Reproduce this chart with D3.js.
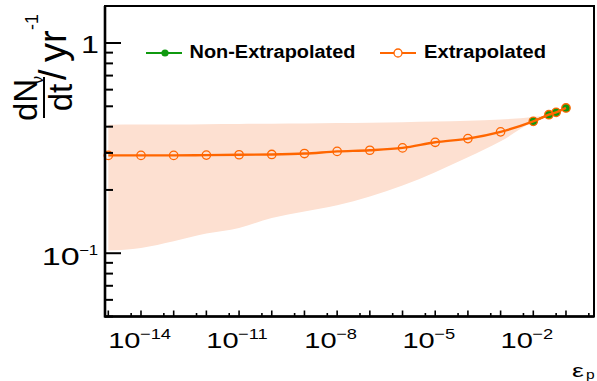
<!DOCTYPE html>
<html>
<head>
<meta charset="utf-8">
<script src="https://cdn.jsdelivr.net/npm/d3@7"></script>
<style>
  html, body { margin: 0; padding: 0; background: #fff; }
  svg { display: block; font-family: "Liberation Sans", Arial, Helvetica, sans-serif; }
</style>
</head>
<body>
<svg id="chart" width="597" height="381"></svg>
<script>
// Proton efficiency scan: extrapolated rate with uncertainty band, plus directly computed points
const epsExtrap  = [1e-15, 1e-14, 1e-13, 1e-12, 1e-11, 1e-10, 1e-9, 1e-8, 1e-7, 1e-6, 1e-5, 1e-4, 1e-3, 1e-2, 3e-2, 5e-2, 1e-1];
const rateExtrap = [0.292, 0.292, 0.292, 0.293, 0.294, 0.295, 0.298, 0.305, 0.309, 0.317, 0.337, 0.351, 0.378, 0.424, 0.456, 0.468, 0.491];
const bandLow    = [0.103, 0.106, 0.114, 0.124, 0.132, 0.147, 0.158, 0.169, 0.186, 0.210, 0.243, 0.286, 0.341, 0.423, 0.456, 0.468, 0.491];
const bandHigh   = [0.409, 0.410, 0.410, 0.411, 0.412, 0.413, 0.414, 0.416, 0.418, 0.420, 0.423, 0.427, 0.433, 0.445, 0.456, 0.468, 0.491];

const epsDirect  = [1e-2, 3e-2, 5e-2, 1e-1];
const rateDirect = [0.424, 0.456, 0.468, 0.491];

const seriesNames = ["Non-Extrapolated", "Extrapolated"];
const xLabelExps  = [-14, -11, -8, -5, -2];
const yMajor      = [0.1, 1];
const yMinor      = [0.05, 0.06, 0.07, 0.08, 0.09, 0.2, 0.3, 0.4, 0.5, 0.6, 0.7, 0.8, 0.9];

const ORANGE = "#ff6600", GREEN = "#0f990f", BAND = "#fde0d1";
const svg = d3.select("#chart");

const frame = { left: 105, right: 594, top: 6, bottom: 316.5 };
const x = d3.scaleLog().domain([Math.pow(10, -15.101), Math.pow(10, -0.143)]).range([frame.left, frame.right]);
const y = d3.scaleLog().domain([0.05, 1.5]).range([frame.bottom, frame.top]);

// uncertainty band
const band = epsExtrap.map((e, i) => ({ e, lo: bandLow[i], hi: bandHigh[i] }));
svg.append("path")
  .datum(band)
  .attr("fill", BAND)
  .attr("d", d3.area().curve(d3.curveMonotoneX).x(d => x(d.e)).y0(d => y(d.lo)).y1(d => y(d.hi)));

// directly computed points
const direct = epsDirect.map((e, i) => ({ e, v: rateDirect[i] }));
svg.append("path").datum(direct)
  .attr("fill", "none").attr("stroke", GREEN).attr("stroke-width", 2)
  .attr("d", d3.line().x(d => x(d.e)).y(d => y(d.v)));
svg.selectAll("circle.direct").data(direct).join("circle")
  .attr("class", "direct")
  .attr("cx", d => x(d.e)).attr("cy", d => y(d.v)).attr("r", 4.3)
  .attr("fill", GREEN);

// extrapolated curve
const extrap = epsExtrap.map((e, i) => ({ e, v: rateExtrap[i] }));
svg.append("path").datum(extrap)
  .attr("fill", "none").attr("stroke", ORANGE).attr("stroke-width", 2.4)
  .attr("d", d3.line().curve(d3.curveCatmullRom.alpha(0.5)).x(d => x(d.e)).y(d => y(d.v)));
svg.selectAll("circle.extrap").data(extrap).join("circle")
  .attr("class", "extrap")
  .attr("cx", d => x(d.e)).attr("cy", d => y(d.v)).attr("r", 4.2)
  .attr("fill", "none").attr("stroke", ORANGE).attr("stroke-width", 1.3);

// frame
svg.append("rect")
  .attr("x", frame.left).attr("y", frame.top)
  .attr("width", frame.right - frame.left).attr("height", frame.bottom - frame.top)
  .attr("fill", "none").attr("stroke", "#000").attr("stroke-width", 2);
svg.append("line").attr("x1", frame.left).attr("x2", frame.left)
  .attr("y1", frame.top).attr("y2", frame.bottom + 1)
  .attr("stroke", "#000").attr("stroke-width", 2.6);
svg.append("line").attr("x1", frame.left).attr("x2", frame.right)
  .attr("y1", frame.bottom).attr("y2", frame.bottom)
  .attr("stroke", "#000").attr("stroke-width", 2.4);

// y ticks
const yTicks = svg.append("g").attr("stroke", "#000").attr("stroke-width", 2);
yMajor.forEach(v => yTicks.append("line")
  .attr("x1", frame.left).attr("x2", frame.left + 16).attr("y1", y(v)).attr("y2", y(v)));
yMinor.forEach(v => yTicks.append("line")
  .attr("x1", frame.left).attr("x2", frame.left + 8).attr("y1", y(v)).attr("y2", y(v)));

// x ticks: every decade, plus 5x10^n
const xTicks = svg.append("g").attr("stroke", "#000").attr("stroke-width", 1.6);
const [lx0, lx1] = x.domain().map(Math.log10);
for (let k = Math.floor(lx0); k <= Math.ceil(lx1); k++) {
  const dec = Math.pow(10, k), half = 5 * Math.pow(10, k);
  if (dec >= x.domain()[0] && dec <= x.domain()[1])
    xTicks.append("line").attr("x1", x(dec)).attr("x2", x(dec))
      .attr("y1", frame.bottom).attr("y2", frame.bottom - 6);
  if (half >= x.domain()[0] && half <= x.domain()[1])
    xTicks.append("line").attr("x1", x(half)).attr("x2", x(half))
      .attr("y1", frame.bottom).attr("y2", frame.bottom - 3.5);
}

// horizontally stretched text helper
function stext(parent, px, py, sx, str, size, anchor, weight) {
  const g = parent.append("g").attr("transform", `translate(${px},${py}) scale(${sx},1)`);
  g.append("text").attr("x", 0).attr("y", 0)
    .attr("font-size", size).attr("text-anchor", anchor || "start")
    .attr("font-weight", weight || "normal").attr("fill", "#000").text(str);
  return g;
}

// x tick labels
xLabelExps.forEach(k => {
  const px = x(Math.pow(10, k));
  stext(svg, px - 0.5, 348, 1.32, "10", 22, "end");
  stext(svg, px - 1, 339, 1.22, "\u2212" + Math.abs(k), 15, "start");
});

// y tick labels
stext(svg, 99, 53.3, 1.4, "1", 23, "end");
stext(svg, 79.6, 265, 1.42, "10", 24, "end");
stext(svg, 79, 255, 1.2, "\u22121", 14, "start");

// x axis title
stext(svg, 572, 377, 1.4, "\u03b5", 19, "start");
stext(svg, 586, 378.5, 1.2, "p", 13, "start");

// y axis title (rotated fraction)
const yt = svg.append("g").attr("transform", "rotate(-90)");
yt.append("text").attr("x", -100).attr("y", 37).attr("font-size", 33)
  .attr("text-anchor", "middle").text("dN");
yt.append("text").attr("x", -84).attr("y", 43).attr("font-size", 16).text("\u03bd");
yt.append("line").attr("x1", -118).attr("x2", -77).attr("y1", 44).attr("y2", 44)
  .attr("stroke", "#000").attr("stroke-width", 2);
yt.append("text").attr("x", -97.5).attr("y", 72).attr("font-size", 33)
  .attr("text-anchor", "middle").text("dt");
yt.append("text").attr("x", -80).attr("y", 66).attr("font-size", 38).text("/");
yt.append("text").attr("x", -62).attr("y", 66).attr("font-size", 38).text("yr");
yt.append("text").attr("x", -30).attr("y", 38).attr("font-size", 18).text("-1");

// legend
const legend = svg.append("g");
legend.append("line").attr("x1", 146).attr("x2", 182).attr("y1", 53).attr("y2", 53)
  .attr("stroke", GREEN).attr("stroke-width", 2);
legend.append("circle").attr("cx", 165).attr("cy", 53).attr("r", 3.6).attr("fill", GREEN);
legend.append("text").attr("x", 189.5).attr("y", 57.7).attr("font-size", 18)
  .attr("font-weight", "bold").attr("textLength", 166).attr("lengthAdjust", "spacingAndGlyphs")
  .text(seriesNames[0]);
legend.append("line").attr("x1", 380).attr("x2", 416).attr("y1", 53).attr("y2", 53)
  .attr("stroke", ORANGE).attr("stroke-width", 2);
legend.append("circle").attr("cx", 398).attr("cy", 53).attr("r", 4)
  .attr("fill", "#fff").attr("stroke", ORANGE).attr("stroke-width", 1.3);
legend.append("text").attr("x", 424).attr("y", 57.7).attr("font-size", 18)
  .attr("font-weight", "bold").attr("textLength", 122).attr("lengthAdjust", "spacingAndGlyphs")
  .text(seriesNames[1]);
</script>
</body>
</html>
